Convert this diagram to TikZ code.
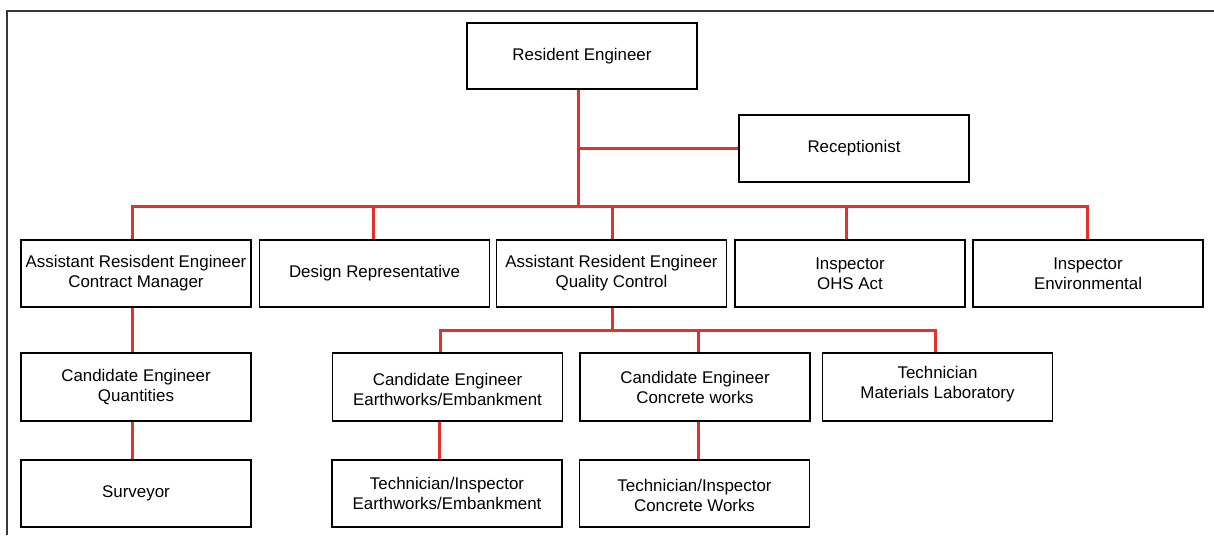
\documentclass[tikz,border=0pt]{standalone}
\usepackage{fontspec}
\setmainfont{Liberation Sans}
\definecolor{orgred}{RGB}{228,50,42}
\definecolor{framegray}{RGB}{55,55,55}
\newcommand{\shifttwo}[3]{\raisebox{#1}[\height][\depth]{\begin{tabular}{@{}c@{}}#2\\#3\end{tabular}}}
\begin{document}
\begin{tikzpicture}[x=1pt,y=-1pt,
  box/.style={draw=black, line width=1.6pt, fill=white, minimum width=230pt, minimum height=67pt,
    inner sep=0pt, align=center, font=\fontsize{16.9}{20}\selectfont},
  link/.style={draw=orgred, line width=3pt}]
\useasboundingbox (0,0) rectangle (1214,535);
\fill[white] (0,0) rectangle (1214,535);
% frame (top and left edges)
\draw[framegray, line width=2pt] (7,535) -- (7,11) -- (1214,11);

% nodes
\node[box, minimum height=66pt] (RE) at (582,56) {Resident Engineer};
\node[box] (Rec) at (854,148.5) {Receptionist};

\node[box] (CM) at (136,273.5) {Assistant Resisdent Engineer\\Contract Manager};
\node[box] (DR) at (374.5,273.5) {Design Representative};
\node[box] (QC) at (611.5,273.5) {Assistant Resident Engineer\\Quality Control};
\node[box] (OHS) at (850,273.5) {Inspector\\OHS Act};
\node[box] (Env) at (1088,273.5) {Inspector\\Environmental};

\node[box, minimum height=68pt] (CEQ) at (136,387) {Candidate Engineer\\Quantities};
\node[box, minimum height=68pt] (CEE) at (447.5,387) {\shifttwo{-4pt}{Candidate Engineer}{Earthworks/Embankment}};
\node[box, minimum height=68pt] (CEC) at (695,387) {Candidate Engineer\\Concrete works};
\node[box, minimum height=68pt] (TML) at (937.5,387) {\shifttwo{3pt}{Technician}{Materials Laboratory}};

\node[box] (Sur) at (136,493.5) {Surveyor};
\node[box] (TIE) at (447,493.5) {Technician/Inspector\\Earthworks/Embankment};
\node[box] (TIC) at (694.5,493.5) {\shifttwo{-4pt}{Technician/Inspector}{Concrete Works}};

% connectors
\coordinate (bar) at (578,206);
\coordinate (bar2) at (612,330);
\draw[link] ([xshift=-4pt]RE.south) -- ([xshift=-4pt]RE.south |- bar);
\draw[link] ([xshift=-4pt]RE.south |- Rec.west) -- (Rec.west);
\draw[link] ([xshift=-4pt]CM.north) -- ([xshift=-4pt]CM.north |- bar) -- ([xshift=-1pt]Env.north |- bar) -- ([xshift=-1pt]Env.north);
\draw[link] ([xshift=-1.5pt]DR.north |- bar) -- ([xshift=-1.5pt]DR.north);
\draw[link] ([xshift=0.5pt]QC.north |- bar) -- ([xshift=0.5pt]QC.north);
\draw[link] ([xshift=-4pt]OHS.north |- bar) -- ([xshift=-4pt]OHS.north);

\draw[link] ([xshift=0.5pt]QC.south) -- ([xshift=0.5pt]QC.south |- bar2);
\draw[link] ([xshift=-7.5pt]CEE.north) -- ([xshift=-7.5pt]CEE.north |- bar2) -- ([xshift=-2.5pt]TML.north |- bar2) -- ([xshift=-2.5pt]TML.north);
\draw[link] ([xshift=3pt]CEC.north |- bar2) -- ([xshift=3pt]CEC.north);

\draw[link] ([xshift=-4pt]CM.south) -- ([xshift=-4pt]CEQ.north);
\draw[link] ([xshift=-4pt]CEQ.south) -- ([xshift=-4pt]Sur.north);
\draw[link] ([xshift=-8pt]CEE.south) -- ([xshift=-7.5pt]TIE.north);
\draw[link] ([xshift=3pt]CEC.south) -- ([xshift=3.5pt]TIC.north);
\end{tikzpicture}
\end{document}
